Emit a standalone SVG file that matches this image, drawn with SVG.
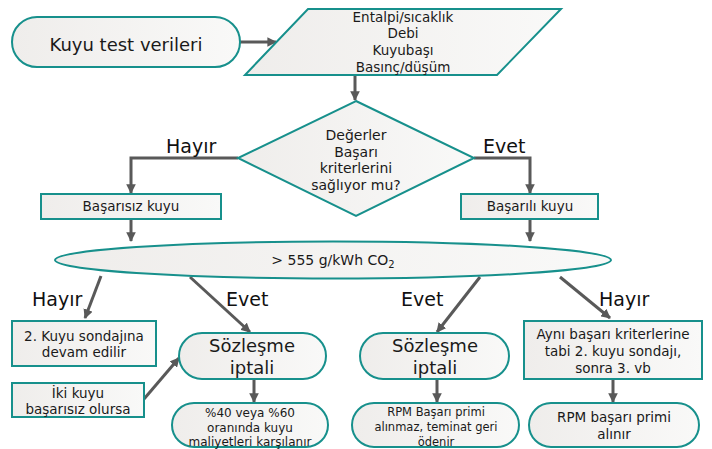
<svg xmlns="http://www.w3.org/2000/svg" width="712" height="449" viewBox="0 0 712 449">
<style>
.n{fill:url(#g);stroke:#17908c;stroke-width:2}
.t{font-family:"DejaVu Sans",Verdana,sans-serif;fill:#1a1a1a;text-anchor:middle}
.c{fill:none;stroke:#595959;stroke-width:3}
.l{font-family:"DejaVu Sans",Verdana,sans-serif;fill:#111;font-size:19px}
</style>
<defs>
<linearGradient id="g" x1="0" y1="0" x2="1" y2="0">
<stop offset="0" stop-color="#efedeb"/>
<stop offset="1" stop-color="#f9f9f8"/>
</linearGradient>
<marker id="a" viewBox="0 0 10 10" refX="9" refY="5" markerWidth="3.2" markerHeight="3.2" orient="auto" markerUnits="strokeWidth">
<path d="M0,0 L10,5 L0,10 z" fill="#595959"/>
</marker>
</defs>
<g id="connectors">
<line class="c" x1="240" y1="42" x2="276" y2="42" marker-end="url(#a)"/>
<line class="c" x1="355" y1="75" x2="355" y2="100" marker-end="url(#a)"/>
<polyline class="c" points="238,158 131,158 131,193" marker-end="url(#a)"/>
<polyline class="c" points="474,158 530,158 530,193" marker-end="url(#a)"/>
<line class="c" x1="131" y1="219" x2="131" y2="241" marker-end="url(#a)"/>
<line class="c" x1="530" y1="219" x2="530" y2="241" marker-end="url(#a)"/>
<line class="c" x1="101" y1="276" x2="85" y2="318" marker-end="url(#a)"/>
<line class="c" x1="190" y1="277" x2="250" y2="332" marker-end="url(#a)"/>
<line class="c" x1="480" y1="277" x2="437" y2="332" marker-end="url(#a)"/>
<line class="c" x1="560" y1="277" x2="610" y2="318" marker-end="url(#a)"/>
<line class="c" x1="144" y1="399" x2="179" y2="358" marker-end="url(#a)"/>
<line class="c" x1="254" y1="379" x2="254" y2="402" marker-end="url(#a)"/>
<line class="c" x1="437" y1="379" x2="437" y2="402" marker-end="url(#a)"/>
<line class="c" x1="613" y1="379" x2="613" y2="402" marker-end="url(#a)"/>
<text class="l" x="166" y="153">Hayır</text>
<text class="l" x="483" y="153">Evet</text>
<text class="l" x="32" y="306">Hayır</text>
<text class="l" x="226" y="306">Evet</text>
<text class="l" x="401" y="306">Evet</text>
<text class="l" x="599" y="306">Hayır</text>
</g>
<g id="start">
<rect class="n" x="12" y="17" width="228" height="50" rx="25"/>
<text class="t" x="126" y="51" font-size="18">Kuyu test verileri</text>
</g>
<g id="input">
<polygon class="n" points="308,9 561,9 497,75 245,75"/>
<text class="t" x="403" y="22" font-size="13.5">Entalpi/sıcaklık</text>
<text class="t" x="403" y="38" font-size="13.5">Debi</text>
<text class="t" x="403" y="55" font-size="13.5">Kuyubaşı</text>
<text class="t" x="403" y="72" font-size="13.5">Basınç/düşüm</text>
</g>
<g id="decision">
<polygon class="n" points="356,101 474,158 356,216 238,158"/>
<text class="t" x="356" y="140" font-size="14">Değerler</text>
<text class="t" x="356" y="157" font-size="14">Başarı</text>
<text class="t" x="356" y="173" font-size="14">kriterlerini</text>
<text class="t" x="356" y="190" font-size="14">sağlıyor mu?</text>
</g>
<g id="fail">
<rect class="n" x="41" y="194" width="180" height="25"/>
<text class="t" x="131" y="211" font-size="13.5">Başarısız kuyu</text>
</g>
<g id="success">
<rect class="n" x="461" y="194" width="137" height="25"/>
<text class="t" x="530" y="211" font-size="13.5">Başarılı kuyu</text>
</g>
<g id="co2">
<ellipse class="n" cx="333" cy="260" rx="278" ry="18.5"/>
<text class="t" x="333" y="265" font-size="14">&gt; 555 g/kWh CO<tspan font-size="10" dy="3">2</tspan></text>
</g>
<g id="continue">
<rect class="n" x="12" y="321" width="144" height="45"/>
<text class="t" x="84" y="341" font-size="13.5">2. Kuyu sondajına</text>
<text class="t" x="84" y="357" font-size="13.5">devam edilir</text>
</g>
<g id="twofail">
<rect class="n" x="12" y="383" width="132" height="34"/>
<text class="t" x="78" y="398" font-size="13.5">İki kuyu</text>
<text class="t" x="78" y="414" font-size="13.5">başarısız olursa</text>
</g>
<g id="cancel1">
<rect class="n" x="179" y="333" width="147" height="46" rx="23"/>
<text class="t" x="252" y="352" font-size="18">Sözleşme</text>
<text class="t" x="252" y="374" font-size="18">iptali</text>
</g>
<g id="cost">
<rect class="n" x="172" y="403" width="156" height="44" rx="22"/>
<text class="t" x="250" y="417" font-size="12">%40 veya %60</text>
<text class="t" x="250" y="432" font-size="12">oranında kuyu</text>
<text class="t" x="250" y="446" font-size="12">maliyetleri karşılanır</text>
</g>
<g id="cancel2">
<rect class="n" x="360" y="333" width="149" height="46" rx="23"/>
<text class="t" x="435" y="352" font-size="18">Sözleşme</text>
<text class="t" x="435" y="374" font-size="18">iptali</text>
</g>
<g id="rpmno">
<rect class="n" x="352" y="403" width="167" height="44" rx="22"/>
<text class="t" x="436" y="416" font-size="11.5">RPM Başarı primi</text>
<text class="t" x="436" y="431" font-size="11.5">alınmaz, teminat geri</text>
<text class="t" x="436" y="446" font-size="11.5">ödenir</text>
</g>
<g id="same">
<rect class="n" x="524" y="321" width="178" height="58"/>
<text class="t" x="613" y="339" font-size="13.5">Aynı başarı kriterlerine</text>
<text class="t" x="613" y="356" font-size="13.5">tabi 2. kuyu sondajı,</text>
<text class="t" x="613" y="373" font-size="13.5">sonra 3. vb</text>
</g>
<g id="rpmyes">
<rect class="n" x="529" y="403" width="170" height="44" rx="22"/>
<text class="t" x="614" y="422" font-size="13.5">RPM başarı primi</text>
<text class="t" x="614" y="439" font-size="13.5">alınır</text>
</g>
</svg>
